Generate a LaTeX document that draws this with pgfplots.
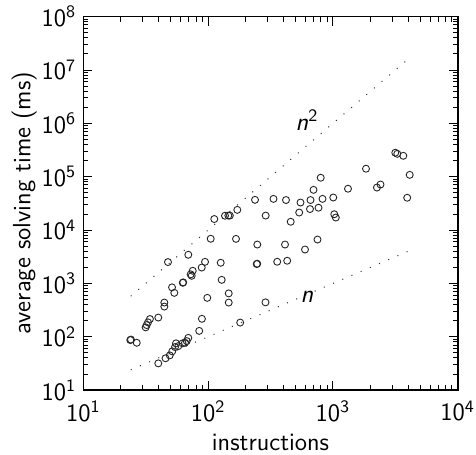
\documentclass[border=0pt]{standalone}
\usepackage{fontspec}
\usepackage{pgfplots}
\pgfplotsset{compat=1.18}
\usetikzlibrary{calc}

% measured runs: instructions vs. average solving time (ms)
\pgfplotstableread{
x y
23.8 86.7
24.1 88.5
26.8 77.1
31.6 150
32.2 165.6
33.0 186
34.2 214.8
39.9 229
44.6 437.5
44.6 368
47.7 2512
51.4 843
53.6 665
62.7 1028
63.2 1045
69.4 3444
72.5 1479
73.9 1390
75.3 1726
88.9 1982
94.5 2535
98.5 536
104.9 6871
89.2 217
84.9 128.8
112.1 16100
126.2 2438
128.5 1166
136.6 18570
145.2 18700
149.3 18700
146.3 650
146.3 437.5
167.3 6840
171.4 23930
180.8 184.5
237.6 36880
245.2 2307
247.5 2340
247.9 5355
289.3 18700
288.3 441.6
334.2 38460
357.9 2547
430.3 2661
413.2 5355
420.9 36560
459.1 14320
537 21320
550 32810
597.6 4315
655.3 24780
661.4 36560
699.1 56760
752.7 6640
766.7 26240
798.5 95730
825.5 38460
1007 40740
1026 19810
1055 17180
1321 59570
1842 141300
2253 62680
2406 71430
3162 281800
3281 268700
3666 246600
4125 108400
3939 40360
39.9 31.7
45.6 39.5
49.3 44.8
51.6 53.2
54.3 64.1
55.3 75.2
57.7 66.8
62.4 75.2
65.3 77.1
67.4 83.0
69.4 95.3
}\ptsdata

\begin{document}
\begin{tikzpicture}[font=\fontsize{12.5}{15}\selectfont\sffamily]
\begin{axis}[
    name=ax,
    xmode=log, ymode=log,
    scale only axis,
    width=187.2pt, height=186.7pt,
    xmin=10, xmax=10000,
    ymin=10, ymax=1e8,
    xtick={10,100,1000,10000},
    xticklabels={$\mathsf{10^1}$,$\mathsf{10^2}$,$\mathsf{10^3}$,$\mathsf{10^4}$},
    ytick={1e1,1e2,1e3,1e4,1e5,1e6,1e7,1e8},
    yticklabels={$\mathsf{10^1}$,$\mathsf{10^2}$,$\mathsf{10^3}$,$\mathsf{10^4}$,$\mathsf{10^5}$,$\mathsf{10^6}$,$\mathsf{10^7}$,$\mathsf{10^8}$},
    xticklabel style={yshift=-1.8pt},
    major tick length=4.5pt,
    minor tick length=2.5pt,
    axis line style={line width=0.8pt},
    every tick/.style={black, line width=0.5pt},
    xlabel={instructions},
    xlabel style={at={(axis description cs:0.5,0)}, anchor=base, yshift=-30pt},
    ylabel={average solving time (ms)},
    ylabel style={at={(axis description cs:-0.158,0.5)}, anchor=center},
    clip=false,
]
\addplot[black!80, line width=0.5pt, dash pattern=on 0.5pt off 4.5pt]
    coordinates {(24,576) (4150,17222500)};
\addplot[black!80, line width=0.5pt, dash pattern=on 0.5pt off 4.5pt]
    coordinates {(24,24) (4150,4150)};
\addplot[only marks, mark=o, mark size=1.75pt,
    mark options={line width=0.45pt, draw=black!85}] table {\ptsdata};
\node at (axis cs:620,1.156e6) {\itshape n\upshape$^{\mathsf{2}}$};
\node at (axis cs:620,555) {\itshape n};
\end{axis}
\pgfresetboundingbox
\path ($(ax.south west)+(-41.65pt,-32pt)$) rectangle ($(ax.north east)+(9.15pt,8.35pt)$);
\end{tikzpicture}
\end{document}
